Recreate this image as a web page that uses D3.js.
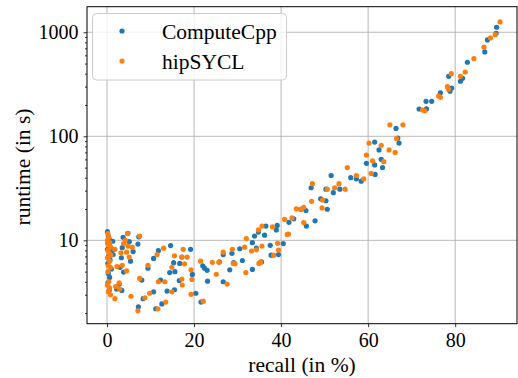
<!DOCTYPE html>
<html><head><meta charset="utf-8">
<script src="https://cdn.jsdelivr.net/npm/d3@7"></script>
<style>html,body{margin:0;padding:0;background:#fff;}svg{display:block;}</style>
</head><body>
<script>
const seriesNames = ["ComputeCpp", "hipSYCL"];
const seriesColors = ["#1f77b4", "#ff7f0e"];
const xTicks = [0, 20, 40, 60, 80];
const yTicks = [10, 100, 1000];
const xLabel = "recall (in %)";
const yLabel = "runtime (in s)";

// [recall %, runtime s]
const computeCpp = [
 [89.5,1117],[89.4,977],[87.4,843],[86.8,647],[82.8,515],[78.5,377],[81.7,361],[81.2,338],[79.2,291],[78.8,271],[76.6,262],[74.6,217],[73.3,217],[73.4,184],[71.7,183],
 [66.4,119],[66.8,96],[67.1,86],[61.5,88],[62.5,74],[63.0,60],[59.6,55],[61.5,53],[63.3,50],[61.6,43],[56.0,40],[57.3,39],[58.4,37],[51.5,42],[53.5,31],[50.3,31],[52.0,28.7],[46.9,32],[49.1,25.1],[50.3,24.0],[50.6,19.9],[45.7,19.3],[44.5,19.9],[42.9,16.1],[41.8,14.9],[47.8,15.4],[45.8,13.7],[39.1,13.9],[38.9,12.6],[36.5,13.7],[33.9,11.0],[34.8,12.0],[36.2,11.2],[40.5,9.3],[37.5,8.95],[33.4,9.5],[34.3,8.4],[39.4,7.3],[37.7,7.2],[35.5,6.2],[30.5,8.3],[28.7,7.5],[26.7,7.3],[31.1,6.4],[29.1,6.1],[25.8,6.2],[33.4,5.25],[28.2,5.2],[26.7,4.0],[23.1,4.05],[22.4,5.4],[22.0,5.7],[23.0,5.15],[19.6,4.7],[19.2,8.2],[17.2,6.9],[14.6,8.9],[16.7,6.0],[15.3,6.1],[15.6,5.0],[14.4,4.9],[16.6,4.1],[15.5,3.35],[13.8,3.25],[20.4,3.1],[21.6,2.55],[12.3,4.15],[11.8,7.95],[10.7,6.7],[9.4,5.4],[8.0,4.15],[10.7,3.2],[8.3,2.75],[7.2,2.3],[11.2,2.2],[12.6,2.45],
 [0.1,12.1],[0.3,11.0],[0.5,10.2],[1.3,9.8],[0.2,9.3],[0.6,8.9],[0.1,8.2],[0.9,7.8],[0.4,7.1],[0.7,6.5],[0.2,6.0],[1.0,5.3],[0.3,4.8],[0.6,4.4],[0.2,3.9],[0.5,3.3],[1.5,8.2],[1.4,7.3],[3.0,5.5],[2.8,3.8],[3.4,3.3],[4.8,11.7],[3.7,10.7],[5.1,9.7],[3.5,8.5],[3.3,6.8],[5.4,6.3],[3.8,4.95],[6.0,7.8],[7.1,9.2],[7.3,10.8],[2.2,3.4]
];
const hipSYCL = [
 [90.3,1256],[89.2,948],[88.1,881],[86.6,718],[84.3,557],[82.3,415],[79.1,400],[81.2,377],[78.2,300],[78.5,283],[76.2,244],[76.6,237],[72.5,179],[73.0,176],
 [65.0,129],[68.0,129],[66.5,95],[60.2,86],[63.0,82],[64.8,74],[66.2,70],[59.6,66],[61.0,58],[63.6,57],[55.2,50],[60.7,44],[57.3,42],[59.0,39],[53.3,35],[52.3,32],[54.7,31],[47.2,35],[50.6,31],[49.5,24.4],[47.0,23.7],[49.4,20.5],[45.2,20.8],[44.5,19.9],[43.5,20.1],[42.5,16.4],[40.8,15.9],[45.2,14.8],[41.7,11.5],[35.6,13.7],[38.0,13.5],[34.8,12.6],[32.0,10.4],[35.6,8.8],[39.4,8.06],[34.3,8.1],[33.2,7.9],[38.3,7.2],[35.3,6.2],[39.2,9.35],[41.4,11.4],
 [34.9,6.0],[31.9,4.9],[31.6,8.6],[28.8,8.2],[26.7,7.7],[25.7,6.14],[24.2,6.14],[29.4,5.95],[25.1,4.72],[27.6,3.8],[21.5,6.3],[19.5,4.2],[19.3,5.2],[17.5,8.2],[18.4,6.9],[15.5,7.1],[17.8,5.95],[17.2,6.9],[14.9,5.5],[17.2,4.25],[17.3,3.72],[14.9,3.2],[19.3,3.03],[22.1,2.6],
 [13.0,8.4],[11.5,7.3],[9.4,5.75],[7.5,4.3],[8.7,2.8],[7.1,2.1],[11.7,2.2],[13.5,2.55],[9.8,3.1],[11.8,4.0],[13.3,4.0],[29.0,6.0],
 [0.2,11.6],[0.4,10.7],[0.1,10.0],[0.6,9.5],[0.3,9.0],[0.8,8.6],[0.2,8.0],[0.5,7.5],[0.9,7.2],[0.1,6.8],[0.6,6.3],[0.3,5.7],[0.8,5.5],[0.2,5.0],[0.4,4.0],[0.1,3.7],[0.6,3.5],[0.3,3.2],[0.8,3.0],[1.8,8.2],[2.3,5.6],[3.5,5.75],[4.5,5.1],[2.8,3.9],[2.0,3.6],[2.9,3.4],[1.8,2.75],[4.7,11.6],[4.2,10.0],[3.8,9.3],[3.2,7.6],[4.5,7.7],[5.1,6.9],[4.8,8.8],[5.8,8.6],[7.5,11.0],[5.5,2.9]
];
const allSeries = [computeCpp, hipSYCL];

const W = 518, H = 378;
const L = 87, R = 517, T = 6.7, B = 323.7;
const font = "'Liberation Serif', 'Times New Roman', serif";

const svg = d3.select("body").append("svg").attr("width", W).attr("height", H);
const x = d3.scaleLinear().domain([-4.6, 94.2]).range([L, R]);
const y = d3.scaleLog().domain([1.58, 1760]).range([B, T]);

// grid
const g = svg.append("g");
g.selectAll(".vg").data(xTicks).join("line")
  .attr("x1", d => x(d)).attr("x2", d => x(d)).attr("y1", T).attr("y2", B)
  .attr("stroke", "#b0b0b0").attr("stroke-width", 0.9);
g.selectAll(".hg").data(yTicks).join("line")
  .attr("x1", L).attr("x2", R).attr("y1", d => y(d)).attr("y2", d => y(d))
  .attr("stroke", "#b0b0b0").attr("stroke-width", 0.9);

// points
allSeries.forEach((s, i) => {
  svg.append("g").selectAll("circle").data(s).join("circle")
    .attr("cx", d => x(d[0])).attr("cy", d => y(d[1])).attr("r", 2.6)
    .attr("fill", seriesColors[i]);
});

// axes
const xAxis = d3.axisBottom(x).tickValues(xTicks).tickSize(3.5).tickPadding(6).tickFormat(d3.format("d"));
const xa = svg.append("g").attr("transform", `translate(0,${B})`).call(xAxis);
const minor = [];
[1, 10, 100, 1000].forEach(dec => { for (let k = 2; k <= 9; k++) { const v = k * dec; if (v >= 1.58 && v <= 1760) minor.push(v); } });
const ya = svg.append("g").attr("transform", `translate(${L},0)`)
  .call(d3.axisLeft(y).tickValues(yTicks).tickSize(3.5).tickPadding(5).tickFormat(d3.format("d")));
const yMinor = svg.append("g").attr("transform", `translate(${L},0)`)
  .call(d3.axisLeft(y).tickValues(minor).tickSize(2).tickFormat(""));
yMinor.select(".domain").remove();
[xa, ya, yMinor].forEach(a => {
  a.selectAll("text").attr("font-family", font).attr("font-size", 20).attr("fill", "#000");
  a.selectAll("line").attr("stroke", "#000").attr("stroke-width", 0.8);
});
xa.select(".domain").remove(); ya.select(".domain").remove();

// frame
svg.append("rect").attr("x", L).attr("y", T).attr("width", R - L).attr("height", B - T)
  .attr("fill", "none").attr("stroke", "#000").attr("stroke-width", 1);

// labels
svg.append("text").attr("x", (L + R) / 2 - 0).attr("y", 372).attr("text-anchor", "middle")
  .attr("font-family", font).attr("font-size", 21.5).text(xLabel);
svg.append("text").attr("transform", `translate(30,167) rotate(-90)`).attr("text-anchor", "middle")
  .attr("font-family", font).attr("font-size", 21.5).text(yLabel);

// legend
const lg = svg.append("g");
lg.append("rect").attr("x", 92.5).attr("y", 13.5).attr("width", 194).attr("height", 66.5).attr("rx", 4)
  .attr("fill", "#fff").attr("fill-opacity", 0.8).attr("stroke", "#cccccc").attr("stroke-width", 1);
seriesNames.forEach((n, i) => {
  lg.append("circle").attr("cx", 122).attr("cy", 31 + i * 30).attr("r", 2.6).attr("fill", seriesColors[i]);
  lg.append("text").attr("x", 162).attr("y", 38.5 + i * 30).attr("font-family", font).attr("font-size", 21.5)
    .attr("fill", "#000").text(n);
});
</script>
</body></html>
